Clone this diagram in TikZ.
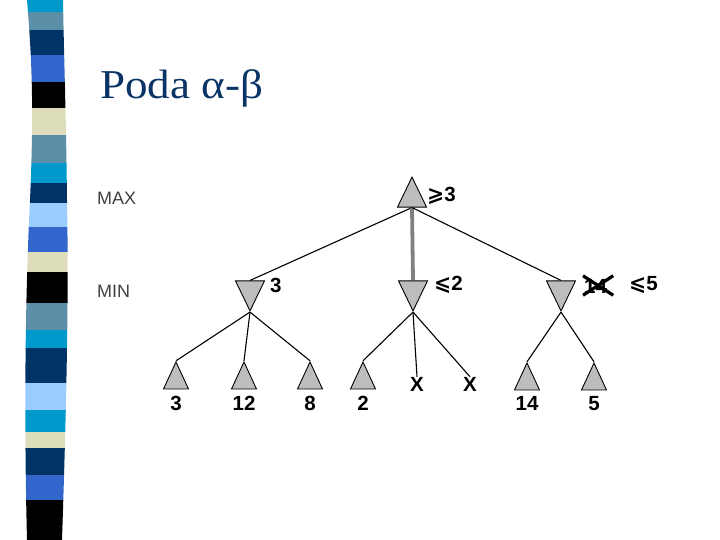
\documentclass[tikz,border=0pt]{standalone}
\usepackage{fontspec}
\setmainfont{Liberation Serif}
\setsansfont{Liberation Sans}
\newfontfamily\symfont{DejaVu Sans}
\usetikzlibrary{shapes.geometric,positioning,backgrounds,calc}
\definecolor{titleblue}{HTML}{0B3466}
\definecolor{stcyan}{HTML}{0099CC}
\definecolor{ststeel}{HTML}{5B8FA8}
\definecolor{stnavy}{HTML}{003366}
\definecolor{stroyal}{HTML}{3366CC}
\definecolor{stbeige}{HTML}{DDDDBB}
\definecolor{stlight}{HTML}{99CCFF}
\definecolor{nodegray}{HTML}{BDBDBD}
\definecolor{levelgray}{HTML}{404040}

\begin{document}
\begin{tikzpicture}[x=1pt, y=-1pt,
  maxtri/.style={isosceles triangle, isosceles triangle stretches, shape border rotate=90,
                 draw=black, line width=0.9pt, fill=nodegray, inner sep=0pt,
                 minimum width=29pt, minimum height=30pt},
  mintri/.style={maxtri, shape border rotate=270},
  leaftri/.style={maxtri, minimum width=25pt, minimum height=27pt},
  val/.style={font=\sffamily\bfseries\fontsize{20.5}{20.5}\selectfont, inner sep=0pt},
  level/.style={font=\sffamily\fontsize{18}{18}\selectfont, text=levelgray, inner sep=0pt, anchor=west},
  edge/.style={line width=1.1pt, black}]
  \useasboundingbox (0,0) rectangle (720,540);
  % striped band on the left
  \begin{scope}
    \clip (27,0) .. controls (32,60) and (34,110) .. (30,200)
          .. controls (25,300) and (24,420) .. (27,540)
          -- (62,540) .. controls (66,420) and (69,300) .. (67,200)
          .. controls (66,110) and (64,60) .. (63,0) -- cycle;
    \fill[stcyan] (0,0) rectangle (80,12);
    \fill[ststeel] (0,12) rectangle (80,30);
    \fill[stnavy] (0,30) rectangle (80,55);
    \fill[stroyal] (0,55) rectangle (80,82);
    \fill[black] (0,82) rectangle (80,108);
    \fill[stbeige] (0,108) rectangle (80,135);
    \fill[ststeel] (0,135) rectangle (80,163);
    \fill[stcyan] (0,163) rectangle (80,183);
    \fill[stnavy] (0,183) rectangle (80,203);
    \fill[stlight] (0,203) rectangle (80,227);
    \fill[stroyal] (0,227) rectangle (80,252);
    \fill[stbeige] (0,252) rectangle (80,272);
    \fill[black] (0,272) rectangle (80,303);
    \fill[ststeel] (0,303) rectangle (80,330);
    \fill[stcyan] (0,330) rectangle (80,348);
    \fill[stnavy] (0,348) rectangle (80,383);
    \fill[stlight] (0,383) rectangle (80,410);
    \fill[stcyan] (0,410) rectangle (80,432);
    \fill[stbeige] (0,432) rectangle (80,448);
    \fill[stnavy] (0,448) rectangle (80,475);
    \fill[stroyal] (0,475) rectangle (80,500);
    \fill[black] (0,500) rectangle (80,540);
  \end{scope}
  % title
  \node[anchor=base west, inner sep=0pt, text=titleblue, xscale=1.1,
        font=\fontsize{41}{41}\selectfont] (title) at (100,99) {Poda α-β};
  % levels
  \node[level] (lmax) at (97,198) {MAX};
  \node[level] (lmin) at (97,291) {MIN};
  % max node
  \node[maxtri] (root) at (412,198) {};
  \node[val, anchor=west] (vroot) at (427,196) {{\symfont ⩾}3};
  % min nodes
  \node[mintri] (m1) at (250,290) {};
  \node[mintri] (m2) at (413,290) {};
  \node[mintri] (m3) at (561,290) {};
  \node[val, anchor=west] (vm1) at (270,285) {3};
  \node[val, anchor=west] (vm2) at (434,285) {{\symfont ⩽}2};
  \node[val, anchor=west] (old14) at (584,286) {14};
  \node[val, anchor=west] (vm3) at (629,285) {{\symfont ⩽}5};
  \draw[line width=3.2pt] ($(old14.north west)+(-1,-3)$) -- ($(old14.south east)+(6,2)$);
  \draw[line width=3.2pt] ($(old14.south west)+(-1,2)$) -- ($(old14.north east)+(6,-3)$);
  % leaves
  \node[leaftri] (l1) at (176,381) {};
  \node[leaftri] (l2) at (244,381) {};
  \node[leaftri] (l3) at (310,381) {};
  \node[leaftri] (l4) at (363,381) {};
  \node[val] (x1) at (417,384) {X};
  \node[val] (x2) at (470,384) {X};
  \node[leaftri] (l7) at (527,382) {};
  \node[leaftri] (l8) at (594,382) {};
  \node[val, below=7pt of l1] (v1) {3};
  \node[val, below=7pt of l2] (v2) {12};
  \node[val, below=7pt of l3] (v3) {8};
  \node[val, below=7pt of l4] (v4) {2};
  \node[val, below=6pt of l7] (v7) {14};
  \node[val, below=6pt of l8] (v8) {5};
  % edges
  \begin{pgfonlayer}{background}
    \draw[edge] (root.south) -- (m1.north);
    \draw[line width=3.8pt, gray] (root.south) -- (m2.north);
    \draw[edge] (root.south) -- (m3.north);
    \draw[edge] (m1.apex) -- (l1.apex);
    \draw[edge] (m1.apex) -- (l2.apex);
    \draw[edge] (m1.apex) -- (l3.apex);
    \draw[edge] (m2.apex) -- (l4.apex);
    \draw[edge] (m2.apex) -- (x1.north);
    \draw[edge] (m2.apex) -- (x2.north);
    \draw[edge] (m3.apex) -- (l7.apex);
    \draw[edge] (m3.apex) -- (l8.apex);
  \end{pgfonlayer}
\end{tikzpicture}
\end{document}
